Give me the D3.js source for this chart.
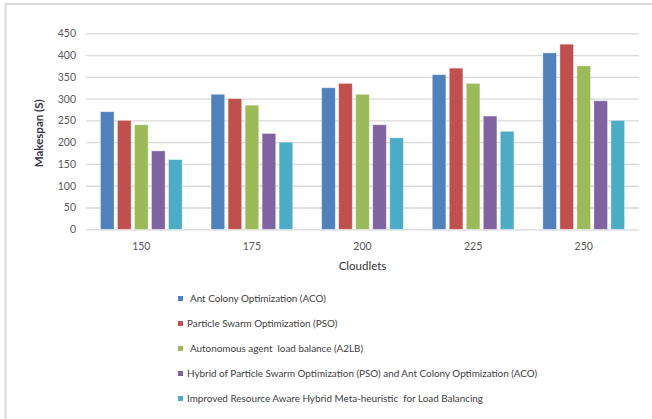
<!DOCTYPE html>
<html>
<head>
<meta charset="utf-8">
<script src="https://cdn.jsdelivr.net/npm/d3@7/dist/d3.min.js"></script>
<style>
  html, body { margin: 0; padding: 0; background: #fff; }
  svg { display: block; }
  text { font-family: Lato, "Open Sans", sans-serif; }
</style>
</head>
<body>
<svg id="chart" width="652" height="419"></svg>
<script>
// Makespan (seconds) per number of cloudlets, one array per algorithm
const cloudlets = ["150", "175", "200", "225", "250"];
const acoValues    = [270, 310, 325, 355, 405];
const psoValues    = [250, 300, 335, 370, 425];
const a2lbValues   = [240, 285, 310, 335, 375];
const hybridValues = [180, 220, 240, 260, 295];
const iraValues    = [160, 200, 210, 225, 250];

const seriesNames = [
  "Ant Colony Optimization (ACO)",
  "Particle Swarm Optimization (PSO)",
  "Autonomous agent  load balance (A2LB)",
  "Hybrid of Particle Swarm Optimization (PSO) and Ant Colony Optimization (ACO)",
  "Improved Resource Aware Hybrid Meta-heuristic  for Load Balancing"
];
const seriesColors = ["#4F81BD", "#C0504D", "#9BBB59", "#8064A2", "#4BACC6"];
const yTicks = [0, 50, 100, 150, 200, 250, 300, 350, 400, 450];

const series = [acoValues, psoValues, a2lbValues, hybridValues, iraValues];

const svg = d3.select("#chart");

// outer frame (top and left edges)
svg.append("line").attr("x1", 5.5).attr("x2", 652).attr("y1", 4).attr("y2", 4)
  .attr("stroke", "#d9d9d9").attr("stroke-width", 2);
svg.append("line").attr("x1", 5.5).attr("x2", 5.5).attr("y1", 3).attr("y2", 419)
  .attr("stroke", "#d9d9d9").attr("stroke-width", 2);

const plot = { left: 86, right: 639, top: 33.3, bottom: 229.3 };

const x0 = d3.scaleBand().domain(cloudlets).range([plot.left, plot.right]);
const x1 = d3.scaleBand().domain(d3.range(series.length))
  .range([0, x0.bandwidth()]).paddingInner(0.2).paddingOuter(0.85);
const y = d3.scaleLinear().domain([0, 450]).range([plot.bottom, plot.top]);

// horizontal gridlines with tick labels
const yAxis = d3.axisLeft(y).tickValues(yTicks)
  .tickSize(-(plot.right - plot.left)).tickPadding(10).tickFormat(d3.format("d"));
const gy = svg.append("g").attr("transform", `translate(${plot.left},0)`).call(yAxis);
gy.select(".domain").remove();
gy.selectAll(".tick line").attr("stroke", "#d9d9d9").attr("stroke-width", 1.3);
gy.selectAll(".tick text").attr("fill", "#595959").attr("font-size", 10.5)
  .attr("x", -10);

// category axis labels
const xAxis = d3.axisBottom(x0).tickSize(0).tickPadding(13);
const gx = svg.append("g").attr("transform", `translate(0,${plot.bottom})`).call(xAxis);
gx.select(".domain").remove();
gx.selectAll(".tick text").attr("fill", "#595959").attr("font-size", 10.5);

// bars
const groups = svg.append("g").selectAll("g").data(cloudlets).join("g")
  .attr("transform", d => `translate(${x0(d)},0)`);
groups.selectAll("rect")
  .data((c, ci) => series.map((s, si) => ({ si, v: s[ci] })))
  .join("rect")
  .attr("x", d => x1(d.si))
  .attr("width", x1.bandwidth())
  .attr("y", d => y(d.v))
  .attr("height", d => y(0) - y(d.v))
  .attr("fill", d => seriesColors[d.si])
  .attr("stroke", "#ffffff").attr("stroke-opacity", 0.45).attr("stroke-width", 0.8);

// axis titles
svg.append("text")
  .attr("transform", `translate(43,${(plot.top + plot.bottom) / 2 + 2}) rotate(-90)`)
  .attr("text-anchor", "middle").attr("font-size", 11.5).attr("font-weight", "bold")
  .attr("fill", "#3a3346").text("Makespan (S)");
svg.append("text")
  .attr("x", (plot.left + plot.right) / 2).attr("y", 270)
  .attr("text-anchor", "middle").attr("font-size", 11.5).attr("fill", "#333")
  .text("Cloudlets");

// legend
const legend = svg.append("g").selectAll("g").data(seriesNames).join("g")
  .attr("transform", (d, i) => `translate(178,${298.5 + i * 25})`);
legend.append("rect").attr("x", 0).attr("y", -2.5).attr("width", 5).attr("height", 5)
  .attr("fill", (d, i) => seriesColors[i]);
legend.append("text")
  .attr("x", (d, i) => (i === 0 || i === 2) ? 12 : 9)
  .attr("dy", "0.35em").attr("font-size", 9.9).attr("fill", "#404040")
  .style("white-space", "pre")
  .text(d => d);
</script>
</body>
</html>
